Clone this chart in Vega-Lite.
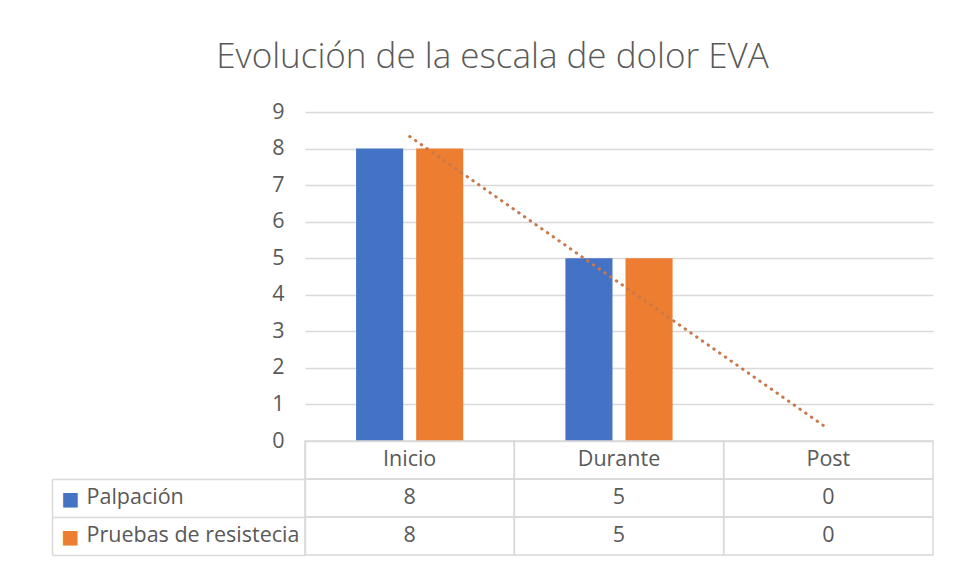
{
  "$schema": "https://vega.github.io/schema/vega-lite/v6.json",
  "width": 628,
  "height": 443,
  "autosize": {"type": "none"},
  "padding": {"left": 305, "top": 112, "right": 21, "bottom": 14},
  "background": "white",
  "config": {"font": "Open Sans", "view": {"stroke": null}},
  "title": {
    "text": "Evolución de la escala de dolor EVA",
    "font": "Open Sans",
    "fontSize": 35,
    "fontWeight": 300,
    "color": "#595959",
    "anchor": "middle",
    "frame": "bounds",
    "offset": 26
  },
  "datasets": {
    "vals": [
      {"cat": "Inicio", "serie": "Palpación", "v": 8},
      {"cat": "Inicio", "serie": "Pruebas de resistecia", "v": 8},
      {"cat": "Durante", "serie": "Palpación", "v": 5},
      {"cat": "Durante", "serie": "Pruebas de resistecia", "v": 5},
      {"cat": "Post", "serie": "Palpación", "v": 0},
      {"cat": "Post", "serie": "Pruebas de resistecia", "v": 0}
    ],
    "table": [
      {"cat": "Inicio", "row": "hdr", "label": "Inicio"},
      {"cat": "Durante", "row": "hdr", "label": "Durante"},
      {"cat": "Post", "row": "hdr", "label": "Post"},
      {"cat": "Inicio", "row": "Palpación", "label": "8"},
      {"cat": "Durante", "row": "Palpación", "label": "5"},
      {"cat": "Post", "row": "Palpación", "label": "0"},
      {"cat": "Inicio", "row": "Pruebas de resistecia", "label": "8"},
      {"cat": "Durante", "row": "Pruebas de resistecia", "label": "5"},
      {"cat": "Post", "row": "Pruebas de resistecia", "label": "0"}
    ],
    "trend": [
      {"cat": "Inicio", "trend": 8.33},
      {"cat": "Post", "trend": 0.33}
    ]
  },
  "layer": [
    {
      "layer": [
        {
          "data": {"name": "vals"},
          "mark": {"type": "bar"},
          "encoding": {
            "x": {
              "field": "cat", "type": "nominal",
              "scale": {"domain": ["Inicio", "Durante", "Post"], "paddingInner": 0, "paddingOuter": 0},
              "axis": null
            },
            "xOffset": {
              "field": "serie", "type": "nominal",
              "scale": {"domain": ["Palpación", "Pruebas de resistecia"], "paddingInner": 0.2167, "paddingOuter": 0.85}
            },
            "y": {
              "field": "v", "type": "quantitative",
              "scale": {"domain": [0, 9], "range": [329, 0], "nice": false, "zero": true},
              "axis": {
                "orient": "left", "title": null,
                "values": [0, 1, 2, 3, 4, 5, 6, 7, 8, 9],
                "grid": true, "gridColor": "#d9d9d9", "gridWidth": 1.5,
                "domain": false, "ticks": false,
                "labelPadding": 21, "labelFontSize": 21.5, "labelColor": "#595959", "labelFont": "Open Sans"
              }
            },
            "color": {
              "field": "serie", "type": "nominal",
              "scale": {"domain": ["Palpación", "Pruebas de resistecia"], "range": ["#4472C4", "#ED7D31"]},
              "legend": null
            }
          }
        },
        {
          "data": {"name": "trend"},
          "mark": {"type": "line", "color": "#C8784A", "strokeWidth": 3, "strokeDash": [0.5, 6.5], "strokeCap": "round"},
          "encoding": {
            "x": {"field": "cat", "type": "nominal"},
            "y": {"field": "trend", "type": "quantitative"}
          }
        }
      ]
    },
    {
      "layer": [
        {
          "data": {"name": "table"},
          "mark": {"type": "rect", "fill": "white", "fillOpacity": 0, "stroke": "#d9d9d9", "strokeWidth": 1.5},
          "encoding": {
            "x": {"field": "cat", "type": "nominal"},
            "y": {
              "field": "row", "type": "nominal",
              "scale": {"domain": ["hdr", "Palpación", "Pruebas de resistecia"], "range": [329, 443], "paddingInner": 0, "paddingOuter": 0},
              "axis": {
                "orient": "left", "title": null,
                "domain": true, "domainColor": "#d9d9d9", "domainWidth": 1.5,
                "ticks": true, "tickSize": 253, "tickColor": "#d9d9d9", "tickWidth": 1.5,
                "bandPosition": 1,
                "labelAlign": "left", "labelBaseline": "middle",
                "labelPadding": -34, "labelLimit": 300,
                "labelExpr": "datum.value == 'hdr' ? '' : datum.value",
                "labelFontSize": 21.5, "labelColor": "#595959", "labelFont": "Open Sans"
              }
            }
          }
        },
        {
          "data": {"name": "table"},
          "transform": [{"filter": "datum.row == 'hdr'"}],
          "mark": {"type": "text", "fontSize": 21.5, "color": "#595959", "font": "Open Sans"},
          "encoding": {
            "x": {"field": "cat", "type": "nominal"},
            "y": {"field": "row", "type": "nominal"},
            "text": {"field": "label"}
          }
        }
      ]
    },
    {
      "data": {"name": "table"},
      "transform": [{"filter": "datum.row != 'hdr'"}],
      "mark": {"type": "text", "fontSize": 21.5, "color": "#595959", "font": "Open Sans"},
      "encoding": {
        "x": {"field": "cat", "type": "nominal"},
        "y": {
          "field": "row", "type": "nominal",
          "scale": {"domain": ["Palpación", "Pruebas de resistecia"], "range": [367, 443], "paddingInner": 0, "paddingOuter": 0},
          "axis": {
            "orient": "left", "title": null, "offset": 253,
            "domain": true, "domainColor": "#d9d9d9", "domainWidth": 1.5,
            "ticks": false,
            "labelAlign": "left", "labelBaseline": "middle", "labelPadding": -9,
            "labelExpr": "'■'",
            "labelFont": "DejaVu Sans", "labelFontSize": 19,
            "labelColor": {"condition": {"test": "datum.value == 'Palpación'", "value": "#4472C4"}, "value": "#ED7D31"}
          }
        },
        "text": {"field": "label"}
      }
    }
  ],
  "resolve": {"scale": {"y": "independent"}}
}
